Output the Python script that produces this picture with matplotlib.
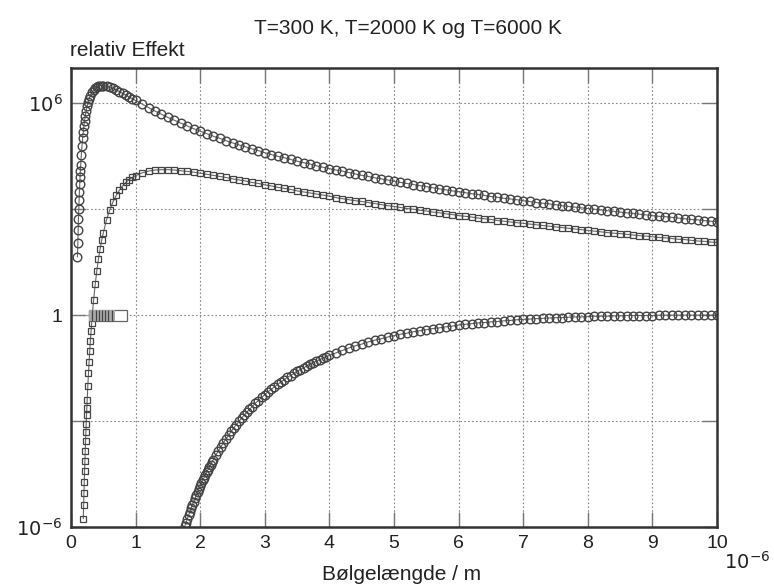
import numpy as np
import matplotlib
matplotlib.use("Agg")
import matplotlib.pyplot as plt
from matplotlib.patches import Rectangle
from matplotlib.ticker import FixedLocator, FixedFormatter, NullLocator

plt.rcParams['font.family'] = ['Liberation Sans', 'DejaVu Sans']

# wavelength in micrometre, values as log10 of relative power
lam_6000 = np.concatenate([
    [0.10, 0.105, 0.11, 0.115, 0.12, 0.125, 0.13, 0.135, 0.14, 0.145, 0.15, 0.16,
     0.17, 0.18, 0.19, 0.20, 0.21, 0.22, 0.235, 0.25, 0.265, 0.28, 0.30, 0.325,
     0.35, 0.375, 0.40, 0.425, 0.45, 0.475, 0.50, 0.55, 0.60, 0.65, 0.70, 0.75,
     0.80, 0.85, 0.90, 0.95, 1.0, 1.1, 1.2, 1.3, 1.4, 1.5, 1.6, 1.7, 1.8, 1.9, 2.0],
    np.round(np.arange(2.1, 10.05, 0.1), 1)])
lg_6000 = [
    1.66, 2.05, 2.40, 2.72, 3.00, 3.26, 3.50, 3.71, 3.91, 4.09, 4.26, 4.55,
    4.80, 5.02, 5.20, 5.37, 5.51, 5.63, 5.79, 5.92, 6.03, 6.12, 6.22, 6.31,
    6.38, 6.43, 6.47, 6.49, 6.50, 6.50, 6.50, 6.49, 6.46, 6.42, 6.38, 6.33,
    6.28, 6.23, 6.18, 6.13, 6.08, 5.98, 5.88, 5.78, 5.69, 5.60, 5.52, 5.44, 5.36, 5.28, 5.21,
    5.14, 5.07, 5.01, 4.94, 4.88, 4.82, 4.77, 4.71, 4.66,
    4.60, 4.55, 4.50, 4.46, 4.41, 4.36, 4.32, 4.28, 4.23, 4.19,
    4.15, 4.11, 4.08, 4.04, 4.00, 3.96, 3.93, 3.89, 3.86, 3.83,
    3.79, 3.76, 3.73, 3.70, 3.67, 3.64, 3.61, 3.58, 3.55, 3.52,
    3.50, 3.47, 3.44, 3.42, 3.39, 3.36, 3.34, 3.31, 3.29, 3.27,
    3.24, 3.22, 3.19, 3.17, 3.15, 3.13, 3.10, 3.08, 3.06, 3.04,
    3.02, 3.00, 2.98, 2.96, 2.94, 2.92, 2.90, 2.88, 2.86, 2.84,
    2.82, 2.80, 2.79, 2.77, 2.75, 2.73, 2.71, 2.70, 2.68, 2.66,
    2.65]

lam_2000 = np.concatenate([
    [0.19, 0.195, 0.20, 0.205, 0.21, 0.215, 0.22, 0.225, 0.23, 0.235, 0.24, 0.245,
     0.25, 0.26, 0.27, 0.28, 0.29, 0.30, 0.31, 0.32, 0.33, 0.35, 0.375, 0.40,
     0.425, 0.45, 0.475, 0.50, 0.55, 0.60, 0.65, 0.70, 0.75, 0.80, 0.85, 0.90,
     0.95, 1.0, 1.1, 1.2, 1.3, 1.4, 1.5, 1.6, 1.7, 1.8, 1.9, 2.0],
    np.round(np.arange(2.1, 10.05, 0.1), 1)])
lg_2000 = [
    -5.76, -5.39, -5.05, -4.72, -4.41, -4.12, -3.84, -3.57, -3.31, -3.07, -2.84, -2.62,
    -2.41, -2.01, -1.65, -1.32, -1.01, -0.72, -0.46, -0.21, 0.02, 0.43, 0.88, 1.26,
    1.59, 1.87, 2.12, 2.33, 2.70, 2.98, 3.21, 3.39, 3.54, 3.66, 3.76, 3.84,
    3.90, 3.95, 4.03, 4.08, 4.11, 4.12, 4.12, 4.11, 4.09, 4.07, 4.05, 4.02,
    3.99, 3.96, 3.93, 3.90, 3.86, 3.83, 3.80, 3.76, 3.73,
    3.69, 3.66, 3.62, 3.59, 3.56, 3.52, 3.49, 3.46, 3.43, 3.40,
    3.37, 3.33, 3.30, 3.27, 3.24, 3.22, 3.19, 3.16, 3.13, 3.10,
    3.08, 3.05, 3.02, 3.00, 2.97, 2.95, 2.92, 2.90, 2.87, 2.85,
    2.82, 2.80, 2.78, 2.75, 2.73, 2.71, 2.68, 2.66, 2.64, 2.62,
    2.60, 2.58, 2.56, 2.54, 2.52, 2.50, 2.48, 2.46, 2.44, 2.42,
    2.40, 2.38, 2.36, 2.34, 2.32, 2.31, 2.29, 2.27, 2.25, 2.24,
    2.22, 2.20, 2.19, 2.17, 2.15, 2.14, 2.12, 2.10, 2.09, 2.07,
    2.06]

lam_300 = np.concatenate([
    [1.76, 1.78, 1.80, 1.82, 1.84, 1.86, 1.88, 1.90, 1.92, 1.94, 1.96, 1.98,
     2.00, 2.02, 2.04, 2.06, 2.08, 2.10, 2.12, 2.14, 2.16, 2.18, 2.20, 2.24,
     2.28, 2.32, 2.36, 2.40, 2.44, 2.48, 2.52, 2.56, 2.60, 2.64, 2.68, 2.72,
     2.76, 2.80, 2.85, 2.90, 2.95, 3.00, 3.05, 3.10, 3.15, 3.20, 3.25, 3.30,
     3.35, 3.40, 3.45, 3.50, 3.55, 3.60, 3.65, 3.70, 3.75, 3.80, 3.85, 3.90,
     3.95, 4.0],
    np.round(np.arange(4.1, 10.05, 0.1), 1)])
lg_300 = [
    -5.98, -5.88, -5.77, -5.67, -5.57, -5.47, -5.37, -5.28, -5.19, -5.10, -5.01, -4.92,
    -4.84, -4.76, -4.68, -4.60, -4.53, -4.45, -4.38, -4.31, -4.24, -4.17, -4.10, -3.97,
    -3.85, -3.73, -3.61, -3.50, -3.40, -3.29, -3.19, -3.10, -3.01, -2.92, -2.83, -2.75,
    -2.67, -2.60, -2.50, -2.42, -2.33, -2.25, -2.17, -2.10, -2.03, -1.96, -1.89, -1.83,
    -1.76, -1.71, -1.65, -1.59, -1.54, -1.49, -1.44, -1.39, -1.35, -1.30, -1.26, -1.22,
    -1.18, -1.14,
    -1.07, -1.00, -0.93, -0.87, -0.82, -0.76, -0.71, -0.67, -0.62,
    -0.58, -0.54, -0.51, -0.47, -0.44, -0.41, -0.38, -0.36, -0.33, -0.31,
    -0.28, -0.26, -0.24, -0.22, -0.21, -0.19, -0.18, -0.16, -0.15, -0.13,
    -0.12, -0.11, -0.10, -0.09, -0.08, -0.07, -0.07, -0.06, -0.05, -0.05,
    -0.04, -0.03, -0.03, -0.03, -0.02, -0.02, -0.01, -0.01, -0.01, -0.01,
    -0.01, 0.00, 0.00, 0.00, 0.00, 0.00, 0.00, 0.00, 0.00, 0.00,
    0.00]

# small striped box sitting on the y=1 line near the left edge
box_x = [0.28, 0.68, 0.87]
stripe_x = [0.33, 0.38, 0.43, 0.48, 0.53, 0.58, 0.63]

y_ticks = [1e-6, 1e-3, 1, 1e3, 1e6]
y_labels = ["$10^{-6}$", "", "1", "", "$10^{6}$"]
x_ticks = [0, 1, 2, 3, 4, 5, 6, 7, 8, 9, 10]

fig = plt.figure(figsize=(7.74, 5.86), dpi=100)
ax = fig.add_axes([71 / 774, 1 - 527 / 586, 646 / 774, 459 / 586])

ink = '#444444'
ax.plot(lam_6000, 10.0 ** np.array(lg_6000), color='#666666', lw=0.8,
        marker='o', ms=6.2, mfc='none', mec=ink, mew=1.0)
ax.plot(lam_2000, 10.0 ** np.array(lg_2000), color='#666666', lw=0.8,
        marker='s', ms=4.6, mfc='none', mec=ink, mew=0.9)
ax.plot(lam_300, 10.0 ** np.array(lg_300), color='#666666', lw=0.8,
        marker='o', ms=6.2, mfc='none', mec=ink, mew=1.0)

lo, hi = 10 ** -0.16, 10 ** 0.16
ax.add_patch(Rectangle((box_x[0], lo), box_x[2] - box_x[0], hi - lo,
                       facecolor='white', edgecolor='#666666', lw=0.9, zorder=3))
ax.add_patch(Rectangle((box_x[0], lo), box_x[1] - box_x[0], hi - lo,
                       facecolor='#aaaaaa', edgecolor='none', zorder=3))
ax.vlines(stripe_x, lo, hi, color='#444444', lw=0.9, zorder=4)

ax.set_yscale('log')
ax.set_xlim(0, 10)
ax.set_ylim(1e-6, 1e7)
ax.yaxis.set_major_locator(FixedLocator(y_ticks))
ax.yaxis.set_major_formatter(FixedFormatter(y_labels))
ax.yaxis.set_minor_locator(NullLocator())
ax.set_xticks(x_ticks)

ax.grid(True, which='major', color='#888888', ls=(0, (1.5, 2)), lw=0.8)
ax.tick_params(which='both', direction='in', length=11, width=1, color='#777777',
               top=True, right=True, labelsize=14, pad=6, labelcolor='#222222')
for s in ax.spines.values():
    s.set_linewidth(1.8)
    s.set_color('#333333')

fig.text(0.527, 0.952, "T=300 K, T=2000 K og T=6000 K", ha='center', va='center',
         fontsize=15, color='#222222')
fig.text(70 / 774, 1 - 51 / 586, "relativ Effekt", ha='left', va='center',
         fontsize=15, color='#222222')
fig.text(402 / 774, 1 - 574 / 586, "Bølgelængde / m", ha='center', va='center',
         fontsize=15, color='#222222')
fig.text(724 / 774, 1 - 562 / 586, "$10^{-6}$", ha='left', va='center',
         fontsize=14, color='#222222')

fig.savefig("out.png", dpi=100)
